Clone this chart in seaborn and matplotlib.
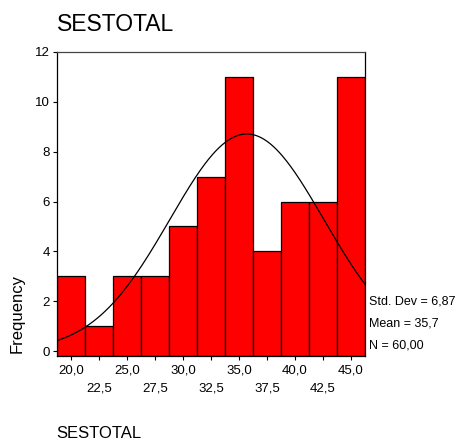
import numpy as np
import pandas as pd
import matplotlib
matplotlib.use("Agg")
import matplotlib.pyplot as plt
import seaborn as sns

# Data
bin_centers = [20.0, 22.5, 25.0, 27.5, 30.0, 32.5, 35.0, 37.5, 40.0, 42.5, 45.0]
counts = [3, 1, 3, 3, 5, 7, 11, 4, 6, 6, 11]
bin_width = 2.5
mean_val = 35.7
std_val = 6.87
n_val = 60
major_ticks = [20.0, 25.0, 30.0, 35.0, 40.0, 45.0]
major_labels = ["20,0", "25,0", "30,0", "35,0", "40,0", "45,0"]
minor_ticks = [22.5, 27.5, 32.5, 37.5, 42.5]
minor_labels = ["22,5", "27,5", "32,5", "37,5", "42,5"]
y_ticks = [0, 2, 4, 6, 8, 10, 12]
stats_lines = ["Std. Dev = 6,87", "Mean = 35,7", "N = 60,00"]

sns.set_style("white")
plt.rcParams['font.family'] = ['Liberation Sans', 'DejaVu Sans']
plt.rcParams['text.color'] = 'black'
plt.rcParams['axes.labelcolor'] = 'black'
plt.rcParams['xtick.color'] = 'black'
plt.rcParams['ytick.color'] = 'black'

fig = plt.figure(figsize=(4.61, 4.41), dpi=100)
ax = fig.add_axes([57/461, 1-356/441, (365-57)/461, (356-52)/441])

df = pd.DataFrame({"x": bin_centers, "w": counts})
edges = [c - bin_width/2 for c in bin_centers] + [bin_centers[-1] + bin_width/2]
sns.histplot(data=df, x="x", weights="w", bins=edges, ax=ax,
             color="#ff0000", edgecolor="black", linewidth=0.9, alpha=1)

ybottom = -0.2
for p in ax.patches:
    p.set_y(ybottom)
    p.set_height(p.get_height() - ybottom)

xs = np.linspace(edges[0], edges[-1], 300)
ys = n_val * bin_width / (std_val * np.sqrt(2*np.pi)) * np.exp(-0.5*((xs-mean_val)/std_val)**2)
sns.lineplot(x=xs, y=ys, ax=ax, color="black", linewidth=0.9)

ax.set_xlim(edges[0], edges[-1])
ax.set_ylim(ybottom, 12)
ax.set_yticks(y_ticks)
ax.set_yticklabels([str(v) for v in y_ticks], fontsize=9.5)
ax.set_xticks(major_ticks)
ax.set_xticklabels(major_labels, fontsize=9.5)
ax.set_xticks(minor_ticks, minor=True)
ax.set_xticklabels(minor_labels, minor=True, fontsize=9.5)
ax.tick_params(axis="both", which="both", direction="out", length=3, width=0.8,
               colors="black", bottom=True, left=True)
ax.tick_params(axis="y", pad=2)
ax.tick_params(axis="x", which="major", pad=3)
ax.tick_params(axis="x", which="minor", pad=16)
for s in ax.spines.values():
    s.set_visible(True)
    s.set_color("black")
    s.set_linewidth(0.9)
ax.spines["top"].set_color("#444444")

ax.set_xlabel("")
ax.set_ylabel("Frequency", fontsize=12)
ax.yaxis.set_label_coords(-0.105, 0.14)

fig.text(57/461, 1-13/441, "SESTOTAL", fontsize=16.5, va="top", ha="left")
fig.text(56/461, 1-426/441, "SESTOTAL", fontsize=12, va="top", ha="left")

for yy, s in zip([302, 323, 345], stats_lines):
    fig.text(369/461, 1-yy/441, s, fontsize=9, va="center", ha="left")

fig.savefig("out.png", dpi=100)
